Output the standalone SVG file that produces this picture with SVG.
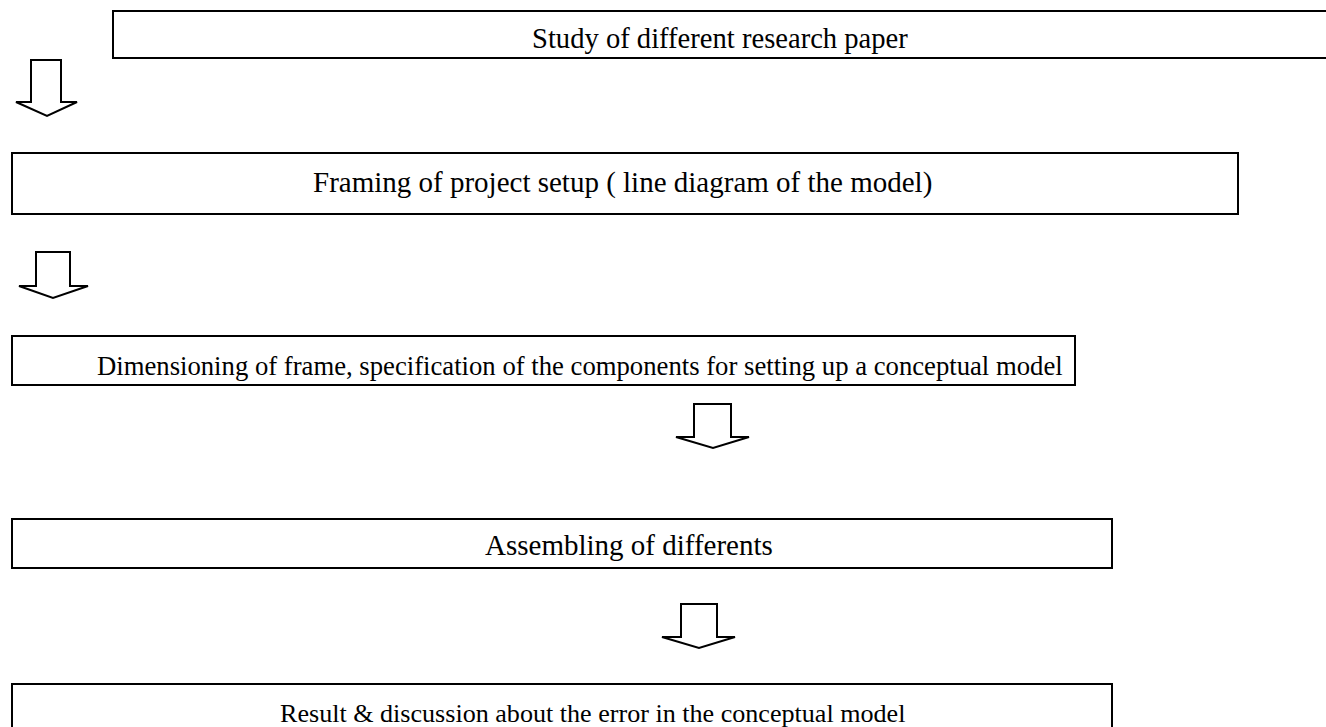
<svg xmlns="http://www.w3.org/2000/svg" width="1326" height="727" viewBox="0 0 1326 727">
<style>
.box{fill:#fff;stroke:#000;stroke-width:2}
.arr{fill:#fff;stroke:#000;stroke-width:2;stroke-linejoin:miter}
.t{font-family:"Liberation Serif","Times New Roman",serif;font-size:29px;fill:#000}
</style>
<rect width="1326" height="727" fill="#fff"/>
<g id="n1">
<rect class="box" x="113" y="11" width="1240" height="47"/>
<text class="t" x="532" y="48" style="font-size:28.6px">Study of different research paper</text>
</g>
<g id="n2">
<rect class="box" x="12" y="153" width="1226" height="61"/>
<text class="t" x="313" y="192">Framing of project setup ( line diagram of the model)</text>
</g>
<g id="n3">
<rect class="box" x="12" y="336" width="1063" height="49"/>
<text class="t" x="97" y="375" style="font-size:26.7px">Dimensioning of frame, specification of the components for setting up a conceptual model</text>
</g>
<g id="n4">
<rect class="box" x="12" y="519" width="1100" height="49"/>
<text class="t" x="485" y="555">Assembling of differents</text>
</g>
<g id="n5">
<rect class="box" x="12" y="684" width="1100" height="60"/>
<text class="t" x="280" y="722" style="font-size:26.1px">Result &amp; discussion about the error in the conceptual model</text>
</g>
<g id="connectors">
<path class="arr" d="M31,60 H61 V102 H77 L47,116 L16,102 H31 Z"/>
<path class="arr" d="M36,252 H70 V286 H88 L53,298 L19,286 H36 Z"/>
<path class="arr" d="M694,404 H731 V437 H749 L713,448 L676,437 H694 Z"/>
<path class="arr" d="M681,604 H717 V637 H735 L699,648 L662,637 H681 Z"/>
</g>
</svg>
